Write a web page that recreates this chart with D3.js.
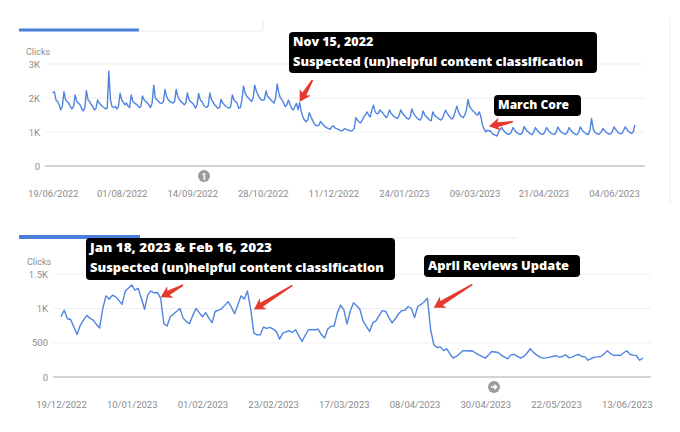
<!DOCTYPE html>
<html>
<head>
<meta charset="utf-8">
<script src="https://cdn.jsdelivr.net/npm/d3@7"></script>
<style>
body{margin:0;background:#fff;}
svg{display:block;font-family:Roboto,"Noto Sans",sans-serif;}
.axis text{fill:#8c8c8c;font-size:9.5px;font-family:Roboto,"Noto Sans",sans-serif;}
.note{fill:#fff;font-family:"Open Sans",sans-serif;font-weight:800;font-size:12.5px;}
</style>
</head>
<body>
<svg id="chart" width="680" height="432"></svg>
<script>
// ---- top chart: daily clicks from 19/06/2022, one row per week (Sun..Sat)
var topStart = "2022-06-19";
var topClicks = [
  2150,2185,1950,1900,1800,1650,1750,
  2185,1950,1900,1850,1750,1680,1750,
  2090,1900,1850,1800,1700,1620,1700,
  2215,1950,1900,1800,1750,1650,1700,
  1940,1850,1800,1750,1720,1680,1700,
  2790,1950,1750,1720,1750,1680,1750,
  2140,1950,1880,1800,1850,1760,1720,
  2090,1900,1850,1820,1780,1720,1750,
  2060,1950,1900,1850,1800,1720,1850,
  2380,2000,1950,1900,1850,1840,1880,
  2250,2050,1950,1900,1880,1850,1900,
  2250,2050,1950,1900,1850,1800,1850,
  2150,1950,1900,1850,1800,1700,1800,
  2135,1950,1900,1800,1750,1720,1780,
  2150,1950,1880,1800,1750,1700,1720,
  1960,1850,1800,1750,1720,1700,1750,
  2090,1950,1900,1850,1700,1720,1950,
  2350,2150,2050,2000,1950,1900,2000,
  2380,2200,2100,2000,1950,1930,1950,
  2210,2050,2000,1950,1900,1850,2000,
  2410,2150,2000,1950,1850,1750,1800,
  1940,1800,1700,1650,1750,1840,1650,
  1860,1600,1450,1350,1300,1350,1570,
  1450,1350,1250,1200,1180,1200,1310,
  1250,1200,1150,1120,1100,1080,1150,
  1180,1120,1100,1080,1050,1030,1050,
  1100,1080,1060,1040,1030,1050,1100,
  1420,1350,1300,1270,1350,1450,1500,
  1590,1500,1440,1650,1790,1600,1540,
  1540,1650,1600,1550,1480,1420,1500,
  1650,1550,1500,1450,1420,1400,1480,
  1650,1560,1500,1450,1400,1380,1450,
  1680,1550,1480,1420,1380,1350,1420,
  1620,1500,1450,1400,1350,1330,1590,
  1500,1450,1420,1380,1350,1400,1520,
  1640,1550,1480,1420,1380,1450,1600,
  1760,1600,1500,1450,1420,1500,1650,
  1960,1750,1680,1620,1580,1520,1500,
  1590,1450,1200,1100,1000,1050,1030,
  1030,960,930,900,880,1000,1080,
  1130,1050,1000,960,930,940,1000,
  1130,1060,1000,960,940,930,1000,
  1160,1080,1020,980,940,920,1000,
  1130,1060,1000,960,930,940,1020,
  1130,1050,1000,960,940,930,1000,
  1150,1060,1000,970,950,940,1000,
  1130,1060,1000,960,930,920,1000,
  1150,1070,1010,970,940,930,1050,
  1400,1100,1000,960,940,950,1000,
  1100,1050,1000,960,940,950,1020,
  1150,1080,1020,970,950,960,1050,
  1150,1080,1020,980,960,1000,1210
];
var topTicks = ["2022-06-19","2022-08-01","2022-09-14","2022-10-28","2022-12-11",
                "2023-01-24","2023-03-09","2023-04-21","2023-06-04"];
var topYTicks = [0,1000,2000,3000];

// ---- bottom chart: daily clicks from 19/12/2022
var botStart = "2022-12-19";
var botClicks = [
  880,975,850,840,730,620,755,830,900,860,830,770,715,1000,1185,1135,1195,1170,1120,1060,
  1255,1300,1345,1270,1295,1150,990,1200,1255,1230,1235,1150,780,745,880,920,960,1000,860,810,
  780,900,1000,940,880,940,860,795,960,975,1000,1050,1100,1020,925,1050,1185,1140,1255,1000,
  640,617,617,730,710,725,700,666,553,640,660,675,650,690,600,520,610,690,690,690,
  700,620,568,700,740,745,940,1050,980,775,960,1083,1040,985,815,740,666,790,820,900,
  970,960,870,790,850,920,970,975,1030,1000,870,1030,1060,1100,1150,690,470,430,440,385,
  412,340,275,300,340,383,383,380,383,350,323,300,275,320,373,365,358,320,290,265,
  323,330,300,275,300,350,412,360,320,290,275,280,290,300,314,290,300,323,280,290,
  314,330,300,294,245,270,290,294,300,340,383,340,314,320,314,350,383,333,320,314,
  245,275
];
var botTicks = ["2022-12-19","2023-01-10","2023-02-01","2023-02-23","2023-03-17",
                "2023-04-08","2023-04-30","2023-05-22","2023-06-13"];
var botYTicks = [0,500,1000,1500];

// annotations: arrow tip / tail as (date, clicks)
var topNotes = [
  {lines:["Nov 15, 2022","Suspected (un)helpful content classification"], box:[289,32,308,41], widths:[0,290]},
  {lines:["March Core"], box:[494,95,87,21], widths:[71]}
];
var topArrows = [
  {tip:["2022-11-20",1890], tail:["2022-11-28",2530]},
  {tip:["2023-03-18",1170], tail:["2023-04-02",1300]}
];
var botNotes = [
  {lines:["Jan 18, 2023 & Feb 16, 2023","Suspected (un)helpful content classification"], box:[86,238,309,42], widths:[182,294]},
  {lines:["April Reviews Update"], box:[424,255,156,22], widths:[141]}
];
var botArrows = [
  {tip:["2023-01-19",1166], tail:["2023-01-26",1343]},
  {tip:["2023-02-17",985],  tail:["2023-03-01",1338]},
  {tip:["2023-04-14",1010], tail:["2023-04-26",1353]}
];

var parse = d3.utcParse("%Y-%m-%d");
var fmt = d3.utcFormat("%d/%m/%Y");
var svg = d3.select("#chart");
var blue = "#4f84e0", red = "#e5392e";

function series(start, values) {
  var s = parse(start);
  return values.map(function(v, i) { return {date: d3.utcDay.offset(s, i), value: v}; });
}

function drawChart(cfg) {
  var g = svg.append("g");
  var x = d3.scaleUtc().domain([parse(cfg.ticks[0]), parse(cfg.ticks[cfg.ticks.length-1])]).range(cfg.xr);
  var y = d3.scaleLinear().domain([0, cfg.yTicks[cfg.yTicks.length-1]]).range(cfg.yr);

  // tab bar on top of the card
  g.append("line").attr("x1", cfg.tab[1]).attr("x2", cfg.tab[2]).attr("y1", cfg.tab[0]+1).attr("y2", cfg.tab[0]+1)
    .attr("stroke", "#ececec").attr("stroke-width", 1);
  g.append("line").attr("x1", 19).attr("x2", cfg.tab[1]).attr("y1", cfg.tab[0]).attr("y2", cfg.tab[0])
    .attr("stroke", "#4a7fdd").attr("stroke-width", cfg.tabW);

  // grid
  g.selectAll(".grid").data(cfg.yTicks).enter().append("line")
    .attr("x1", cfg.grid[0]).attr("x2", cfg.grid[1])
    .attr("y1", function(d){return y(d);}).attr("y2", function(d){return y(d);})
    .attr("stroke", function(d){return d === 0 ? "#c4c4c4" : "#efefef";})
    .attr("stroke-width", function(d){return d === 0 ? 1.5 : 1;});

  g.append("text").attr("x", cfg.clicks[0]).attr("y", cfg.clicks[1])
    .attr("fill", "#8c8c8c").style("font-size", "9px").text("Clicks");

  var yAxis = d3.axisLeft(y).tickValues(cfg.yTicks).tickSize(0).tickPadding(0)
    .tickFormat(function(d){ return d === 0 ? "0" : (d >= 1000 ? (d/1000) + "K" : d); });
  g.append("g").attr("class", "axis").attr("transform", "translate(" + cfg.yAxisX + ",0)").call(yAxis)
    .call(function(a){ a.select(".domain").remove(); });

  var xAxis = d3.axisBottom(x).tickValues(cfg.ticks.map(parse)).tickSize(0).tickPadding(0).tickFormat(fmt);
  g.append("g").attr("class", "axis").attr("transform", "translate(0," + cfg.xAxisY + ")").call(xAxis)
    .call(function(a){ a.select(".domain").remove(); });

  var data = series(cfg.start, cfg.values);
  var line = d3.line().x(function(d){return x(d.date);}).y(function(d){return y(d.value);});
  g.append("path").datum(data).attr("d", line)
    .attr("fill", "none").attr("stroke", blue).attr("stroke-width", 1.4).attr("stroke-linejoin", "round");

  // annotation boxes
  cfg.notes.forEach(function(n) {
    g.append("rect").attr("x", n.box[0]).attr("y", n.box[1]).attr("width", n.box[2]).attr("height", n.box[3])
      .attr("rx", 4).attr("fill", "#000");
    n.lines.forEach(function(t, i) {
      var tx = g.append("text").attr("class", "note")
        .attr("x", n.box[0] + 4).attr("y", n.box[1] + (n.lines.length > 1 ? 13.5 + i*20.5 : n.box[3] - 7))
        .text(t);
      if (n.widths[i]) tx.attr("textLength", n.widths[i]).attr("lengthAdjust", "spacingAndGlyphs");
    });
  });

  // red arrows
  cfg.arrows.forEach(function(a) {
    var x1 = x(parse(a.tail[0])), y1 = y(a.tail[1]);
    var x2 = x(parse(a.tip[0])), y2 = y(a.tip[1]);
    var dx = x2 - x1, dy = y2 - y1, len = Math.sqrt(dx*dx + dy*dy);
    var ux = dx/len, uy = dy/len, nx = -uy, ny = ux;
    var hl = Math.min(11, len*0.55), bx = x2 - ux*hl, by = y2 - uy*hl;
    var pts = [
      [x1 + nx*0.8, y1 + ny*0.8], [bx + nx*2.4 + ux*2, by + ny*2.4 + uy*2], [bx + nx*6.5, by + ny*6.5],
      [x2, y2],
      [bx - nx*6.5, by - ny*6.5], [bx - nx*2.4 + ux*2, by - ny*2.4 + uy*2], [x1 - nx*0.8, y1 - ny*0.8]
    ];
    g.append("path").attr("d", "M" + pts.map(function(p){return p[0].toFixed(1) + "," + p[1].toFixed(1);}).join("L") + "Z")
      .attr("fill", red);
  });

  // little grey marker under the axis
  g.append("circle").attr("cx", cfg.marker[0]).attr("cy", cfg.marker[1]).attr("r", 6).attr("fill", "#9c9c9c");
  if (cfg.marker[2] === "arrow") {
    var mx = cfg.marker[0], my = cfg.marker[1];
    g.append("path").attr("d", "M" + (mx-3) + "," + my + "H" + (mx+2.5) + "M" + (mx+0.2) + "," + (my-2.3) + "L" + (mx+2.7) + "," + my + "L" + (mx+0.2) + "," + (my+2.3))
      .attr("fill", "none").attr("stroke", "#fff").attr("stroke-width", 1.3);
  } else {
    g.append("text").attr("x", cfg.marker[0]).attr("y", cfg.marker[1] + 3.5).attr("text-anchor", "middle")
      .attr("fill", "#fff").style("font-size", "9.5px").style("font-weight", "bold").text(cfg.marker[2]);
  }
  return g;
}

drawChart({
  start: topStart, values: topClicks, ticks: topTicks, yTicks: topYTicks,
  xr: [52.7, 614], yr: [166, 64], grid: [45, 645],
  yAxisX: 40, xAxisY: 189.8, clicks: [26, 55],
  tab: [30, 139, 263], tabW: 3, marker: [204, 176, "1"],
  notes: topNotes, arrows: topArrows
});
drawChart({
  start: botStart, values: botClicks, ticks: botTicks, yTicks: botYTicks,
  xr: [61, 626.7], yr: [377, 274.3], grid: [53, 651],
  yAxisX: 48, xAxisY: 401.6, clicks: [27, 264.5],
  tab: [237, 140, 517], tabW: 4, marker: [494, 387, "arrow"],
  notes: botNotes, arrows: botArrows
});

// card edges
svg.append("line").attr("x1", 263).attr("x2", 263).attr("y1", 20).attr("y2", 31).attr("stroke", "#e6e6e6");
svg.append("line").attr("x1", 670).attr("x2", 670).attr("y1", 18).attr("y2", 205).attr("stroke", "#ededed");
</script>
</body>
</html>
